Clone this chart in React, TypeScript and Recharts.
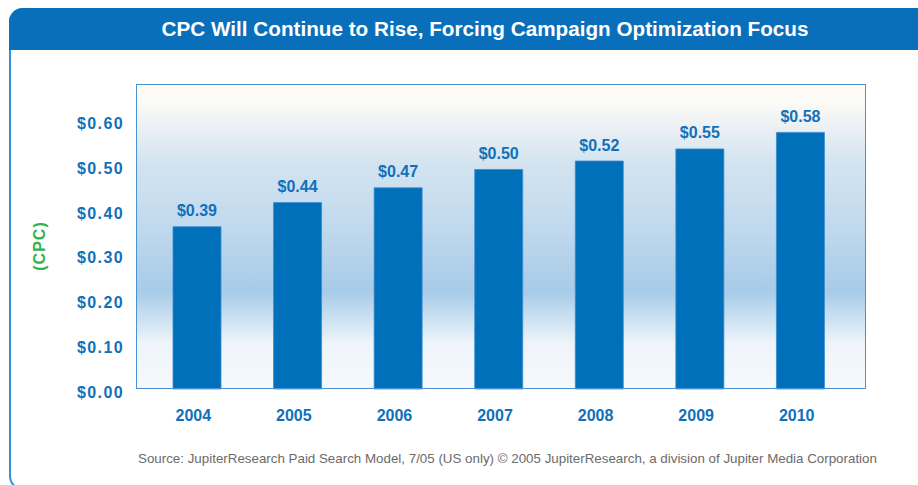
import React from "react";
import { BarChart, Bar, XAxis, YAxis, LabelList } from "recharts";

const years = ["2004", "2005", "2006", "2007", "2008", "2009", "2010"];
// bar heights as drawn in the reference
const cpcHeights = [0.363, 0.417, 0.45, 0.491, 0.51, 0.537, 0.574];
// value labels printed above the bars
const cpcLabels = ["$0.39", "$0.44", "$0.47", "$0.50", "$0.52", "$0.55", "$0.58"];
const yTicks = [0, 0.1, 0.2, 0.3, 0.4, 0.5, 0.6];

const data = years.map((year, i) => ({
  year,
  cpc: cpcHeights[i],
  label: cpcLabels[i],
}));

const BLUE = "#1170b9";
const FONT = "'Liberation Sans', Arial, sans-serif";

function YTick({ x, y, payload }: { x?: number; y?: number; payload?: { value: number } }) {
  return (
    <text
      x={(x ?? 0) - 5}
      y={(y ?? 0) + 3}
      textAnchor="end"
      dominantBaseline="central"
      fill={BLUE}
      fontFamily={FONT}
      fontWeight="bold"
      fontSize={16}
      letterSpacing={1.4}
    >
      {"$" + (payload?.value ?? 0).toFixed(2)}
    </text>
  );
}

function XTick({ x, y, payload }: { x?: number; y?: number; payload?: { value: string } }) {
  return (
    <text
      x={(x ?? 0) - 4}
      y={(y ?? 0) + 18}
      textAnchor="middle"
      dominantBaseline="central"
      fill={BLUE}
      fontFamily={FONT}
      fontWeight="bold"
      fontSize={16}
    >
      {payload?.value}
    </text>
  );
}

function ValueLabel(props: any) {
  const { x, y, width, index } = props;
  return (
    <text
      x={x + width / 2}
      y={y - 16}
      textAnchor="middle"
      dominantBaseline="central"
      fill={BLUE}
      fontFamily={FONT}
      fontWeight="bold"
      fontSize={16}
    >
      {cpcLabels[index]}
    </text>
  );
}

export default function App() {
  return (
    <div
      style={{
        position: "absolute",
        left: 0,
        top: 0,
        width: 918,
        height: 485,
        overflow: "hidden",
        background: "#fff",
        fontFamily: FONT,
      }}
    >
      {/* panel outline */}
      <div
        style={{
          position: "absolute",
          left: 9,
          top: 8,
          width: 960,
          height: 478,
          border: "2px solid #3b8fd6",
          borderRadius: 14,
        }}
      />
      {/* title bar */}
      <div
        style={{
          position: "absolute",
          left: 9,
          top: 8,
          width: 930,
          height: 42,
          background: "#0a6fba",
          borderTopLeftRadius: 14,
        }}
      />
      <div
        style={{
          position: "absolute",
          left: 0,
          top: 8,
          width: 970,
          height: 42,
          lineHeight: "42px",
          textAlign: "center",
          color: "#fff",
          fontWeight: "bold",
          fontSize: 20.7,
        }}
      >
        CPC Will Continue to Rise, Forcing Campaign Optimization Focus
      </div>

      {/* plot background */}
      <div
        style={{
          position: "absolute",
          left: 137,
          top: 85,
          width: 729,
          height: 304,
          background:
            "linear-gradient(to bottom, #fffcf3 0%, #fdfbf6 5%, #e9eff4 15%, #d4e4f0 25%, #c2daee 45%, #a7cbe8 68%, #c4ddef 75%, #eef4fa 85%, #f5f9fd 100%)",
        }}
      />

      <div style={{ position: "absolute", left: 0, top: 0 }}>
        <BarChart
          width={918}
          height={485}
          data={data}
          margin={{ top: 85, right: 52, bottom: 66, left: 37 }}
        >
          <XAxis
            dataKey="year"
            height={30}
            axisLine={false}
            tickLine={false}
            padding={{ left: 10, right: 15 }}
            tick={<XTick />}
            interval={0}
          />
          <YAxis
            width={100}
            domain={[0, 0.68]}
            ticks={yTicks}
            axisLine={false}
            tickLine={false}
            tick={<YTick />}
            interval={0}
          />
          <Bar
            dataKey="cpc"
            fill="#0070ba"
            stroke="#3a8ccf"
            strokeWidth={0.8}
            barSize={48}
            isAnimationActive={false}
          >
            <LabelList dataKey="label" content={<ValueLabel />} />
          </Bar>
        </BarChart>
      </div>

      {/* plot frame */}
      <div
        style={{
          position: "absolute",
          left: 136,
          top: 84,
          width: 728,
          height: 303,
          border: "1.5px solid #4a92d3",
          pointerEvents: "none",
        }}
      />

      {/* axis title */}
      <div
        style={{
          position: "absolute",
          left: 40,
          top: 246,
          transform: "translate(-50%, -50%) rotate(-90deg)",
          color: "#2db34a",
          fontWeight: "bold",
          fontSize: 16,
          letterSpacing: 1,
          whiteSpace: "nowrap",
        }}
      >
        (CPC)
      </div>

      {/* source note */}
      <div
        style={{
          position: "absolute",
          left: 138,
          top: 451,
          color: "#6b6b6b",
          fontSize: 13.35,
          whiteSpace: "nowrap",
        }}
      >
        Source: JupiterResearch Paid Search Model, 7/05 (US only) © 2005 JupiterResearch, a division of Jupiter Media Corporation
      </div>
    </div>
  );
}
